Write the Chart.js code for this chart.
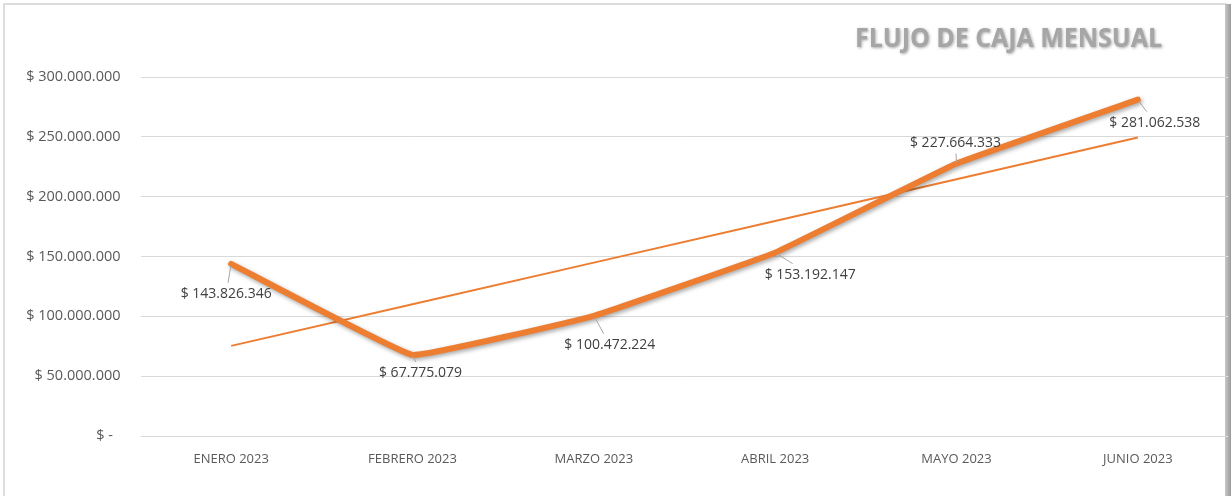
<!DOCTYPE html>
<html>
<head>
<meta charset="utf-8">
<title>Flujo de caja mensual</title>
<script src="https://cdn.jsdelivr.net/npm/chart.js@4/dist/chart.umd.min.js"></script>
<style>
  html, body { margin: 0; padding: 0; background: #ffffff; }
  #wrap { position: relative; width: 1231px; height: 496px; }
</style>
</head>
<body>
<div id="wrap"><canvas id="flujo" width="1231" height="496"></canvas></div>
<script>
// chart data
var meses = ['ENERO 2023', 'FEBRERO 2023', 'MARZO 2023', 'ABRIL 2023', 'MAYO 2023', 'JUNIO 2023'];
var flujo = [143826346, 67775079, 100472224, 153192147, 227664333, 281062538];
var tendencia = [75300000, 110100000, 144900000, 179700000, 214600000, 249400000];
var yTicks = [0, 50000000, 100000000, 150000000, 200000000, 250000000, 300000000];
var titulo = 'FLUJO DE CAJA MENSUAL';

// label offsets from each point, in px (style only)
var labelOffsets = [[-5, 30], [8, 18], [16, 29], [35, 22], [-1, -21], [17, 23]];

var naranja = '#ED7D31';
var gris = '#595959';

function pesos(v) {
    if (v === 0) return '$ -  ';
    var s = String(Math.round(v));
    return '$ ' + s.replace(/\B(?=(\d{3})+(?!\d))/g, '.');
}

// frame, title and data labels, drawn by hand like the Excel original
var decor = {
    id: 'decor',
    beforeDraw: function(chart) {
	var ctx = chart.ctx;
	ctx.save();
	ctx.fillStyle = '#ffffff';
	ctx.fillRect(0, 0, chart.width, chart.height);
	ctx.strokeStyle = '#DDDDDD';
	ctx.lineWidth = 2;
	ctx.strokeRect(4, 4, 1222, 500);
	var g = ctx.createLinearGradient(1225, 0, 1231, 0);
	g.addColorStop(0, '#c8c8c8');
	g.addColorStop(1, '#9a9a9a');
	ctx.fillStyle = g;
	ctx.fillRect(1225, 4, 6, 492);
	ctx.restore();
    },
    afterDatasetsDraw: function(chart) {
	var ctx = chart.ctx;
	var meta = chart.getDatasetMeta(0);
	ctx.save();
	ctx.font = '14px "Open Sans"';
	ctx.textAlign = 'center';
	ctx.textBaseline = 'middle';
	meta.data.forEach(function(pt, i) {
	    var txt = pesos(flujo[i]);
	    var cx = pt.x + labelOffsets[i][0];
	    var cy = pt.y + labelOffsets[i][1];
	    var hw = ctx.measureText(txt).width / 2 + 3;
	    var hh = 11;
	    // leader line: from point toward label centre, stop at label box
	    var dx = cx - pt.x, dy = cy - pt.y;
	    var tx = Math.abs(dx) > 0 ? (Math.abs(dx) - hw) / Math.abs(dx) : -1;
	    var ty = Math.abs(dy) > 0 ? (Math.abs(dy) - hh) / Math.abs(dy) : -1;
	    var t = Math.max(tx, ty);
	    var len = t * Math.sqrt(dx * dx + dy * dy);
	    if (len > 7) {
		ctx.strokeStyle = '#A6A6A6';
		ctx.lineWidth = 1;
		ctx.beginPath();
		ctx.moveTo(pt.x + dx * 0.06, pt.y + dy * 0.06);
		ctx.lineTo(pt.x + dx * t, pt.y + dy * t);
		ctx.stroke();
	    }
	    ctx.fillStyle = '#404040';
	    ctx.fillText(txt, cx, cy);
	});

	// title
	ctx.font = 'bold 26px "Open Sans"';
	ctx.textAlign = 'left';
	ctx.textBaseline = 'alphabetic';
	var w = ctx.measureText(titulo).width;
	var sx = 307 / w;
	ctx.translate(855, 47);
	ctx.scale(sx, 1);
	ctx.shadowColor = 'rgba(0,0,0,0.35)';
	ctx.shadowBlur = 3;
	ctx.shadowOffsetX = 1;
	ctx.shadowOffsetY = 1;
	ctx.fillStyle = '#A6A6A6';
	ctx.fillText(titulo, 0, 0);
	ctx.restore();
    },
    beforeDatasetDraw: function(chart, args) {
	if (args.index !== 0) return;
	var ctx = chart.ctx;
	ctx.save();
	ctx.shadowColor = 'rgba(0,0,0,0.35)';
	ctx.shadowBlur = 4;
	ctx.shadowOffsetX = 1.5;
	ctx.shadowOffsetY = 2;
    },
    afterDatasetDraw: function(chart, args) {
	if (args.index !== 0) return;
	chart.ctx.restore();
    }
};

new Chart(document.getElementById('flujo').getContext('2d'), {
    type: 'line',
    data: {
	labels: meses,
	datasets: [
	    { label: 'Flujo', data: flujo, borderColor: naranja, borderWidth: 6,
	      pointRadius: 0, tension: 0.07, borderCapStyle: 'round', borderJoinStyle: 'round', fill: false },
	    { label: 'Tendencia', data: tendencia, borderColor: naranja, borderWidth: 2,
	      pointRadius: 0, tension: 0, fill: false }
	]
    },
    options: {
	responsive: false,
	animation: false,
	layout: { padding: { top: 77, right: 2.5, bottom: 0, left: 0 } },
	plugins: { legend: { display: false }, tooltip: { enabled: false } },
	scales: {
	    x: {
		offset: true,
		grid: { display: false, drawTicks: false },
		border: { display: false },
		ticks: { color: gris, padding: 15, maxRotation: 0,
			 font: { family: 'Open Sans', size: 13 } },
		afterFit: function(scale) { scale.height = 60; }
	    },
	    y: {
		min: 0,
		max: 300000000,
		grid: { color: '#D9D9D9', lineWidth: 1, drawTicks: false },
		border: { display: false },
		afterBuildTicks: function(scale) {
		    scale.ticks = yTicks.map(function(v) { return { value: v }; });
		},
		ticks: { color: gris, padding: 20,
			 font: { family: 'Open Sans', size: 14.5 } ,
			 callback: function(v) { return pesos(v); } },
		afterFit: function(scale) { scale.width = 140.5; }
	    }
	}
    },
    plugins: [decor]
});
</script>
</body>
</html>
